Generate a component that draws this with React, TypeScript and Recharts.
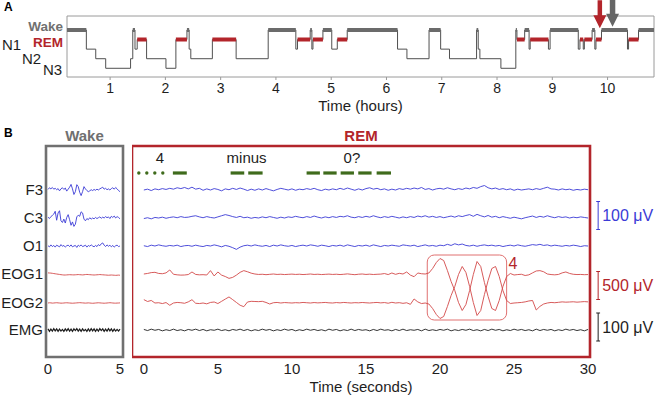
import {
  LineChart,
  Line,
  XAxis,
  YAxis,
  ReferenceArea,
  ReferenceLine,
  ReferenceDot,
} from 'recharts'

// ---------- Panel A: hypnogram ----------
const stageOrder = ['N3', 'N2', 'N1', 'REM', 'Wake']
const epochOnset = [
  0.22, 0.57, 0.74, 0.92, 1.37, 1.41, 1.45, 1.49, 1.66, 2.01, 2.19, 2.39, 2.43, 2.46, 2.85, 3.28, 3.86, 4.36,
  4.39, 4.62, 4.65, 4.67, 4.85, 5.01, 5.11, 5.29, 6.2, 6.37, 6.77, 6.98, 7.14, 7.63, 7.66, 7.69, 8.07, 8.34,
  8.36, 8.5, 8.58, 8.6, 8.93, 8.96, 9.47, 9.5, 9.56, 9.58, 9.72, 9.77, 9.79, 9.89, 10.36, 10.38, 10.56,
]
const epochStage = [
  'Wake', 'N1', 'N2', 'N3', 'N2', 'Wake', 'N1', 'REM', 'N2', 'N3', 'REM', 'Wake', 'N1', 'N2', 'REM', 'N2', 'Wake', 'N1',
  'REM', 'Wake', 'N1', 'REM', 'Wake', 'N1', 'REM', 'Wake', 'N1', 'N2', 'Wake', 'N1', 'N2', 'Wake', 'N1', 'N2', 'N3', 'Wake',
  'REM', 'Wake', 'N1', 'REM', 'N1', 'Wake', 'N1', 'REM', 'N1', 'REM', 'Wake', 'N1', 'REM', 'Wake', 'N1', 'REM', 'Wake',
]
const recordingEnd = 10.84
const hourTicks = [1, 2, 3, 4, 5, 6, 7, 8, 9, 10]
// arrows marking the two example epochs (hours)
const remArrowAt = 9.86
const wakeArrowAt = 10.09

// ---------- Panel B: traces (µV) ----------
const channelNames = ['F3', 'C3', 'O1', 'EOG1', 'EOG2', 'EMG']
const wakeDt = 0.1
const remDt = 0.25
const secondTicksWake = [0, 5]
const secondTicksRem = [0, 5, 10, 15, 20, 25, 30]

const wakeF3 = [
  2, 8, 4, 9, 3, 6, 1, 5, -3, 4,
  8, 2, 7, -4, 3, 10, 20, 4, -16, -6,
  19, 12, -8, -20, -6, 12, 4, -2, -6, -3,
  1, -2, 2, -1, 3, 0, 4, 7, 10, 3,
  6, 1, 4, 0, 5, 8, 3, 9, 4, -2,
  -6,
]
const wakeC3 = [
  3, -2, 5, 9, 14, 24, -8, 18, 26, -10,
  -16, -4, -18, 2, 12, -6, -26, -14, -30, -22,
  4, 10, 6, 22, 18, -4, -10, -2, -6, 1,
  -4, 0, -3, 2, -2, 1, 4, -1, 3, 0,
  5, 1, 4, -2, 6, 2, 7, 0, 5, 2,
  -3,
]
const wakeO1 = [
  1, -3, 4, -2, 2, -4, 3, 0, -3, 5,
  -1, 2, -4, 1, 3, -2, 4, -3, 0, 2,
  -5, 3, -1, 4, -2, 0, 3, -4, 2, -1,
  4, 0, -3, 2, -2, 5, 1, 8, 11, 3,
  -2, 4, -1, 3, -3, 2, -4, 1, 3, -2,
  0,
]
const wakeEOG1 = [
  20, 18, 16, 12, 8, 4, 0, -4, -8, -12,
  -15, -18, -18, -16, -14, -12, -14, -15, -16, -14,
  -12, -10, -12, -14, -16, -14, -10, -8, -10, -12,
  -14, -16, -18, -16, -14, -12, -10, -12, -14, -16,
  -18, -20, -22, -20, -18, -20, -22, -24, -22, -20,
  -22,
]
const wakeEOG2 = [
  0, 4, 2, -2, 0, 3, 5, 2, 0, -3,
  -2, 0, 3, 4, 2, 0, -2, -4, -2, 0,
  2, 4, 6, 4, 2, 0, -2, 0, 2, 0,
  -3, -5, -3, 0, 2, 4, 2, 0, -2, -4,
  -2, 0, 3, 5, 3, 0, -2, -3, -1, 0,
  2,
]
const wakeEMG = [
  4, -5, 3, -4, 5, -3, 4, -5, 3, -4,
  2, -5, 4, -3, 5, -4, 3, -5, 4, -2,
  5, -4, 3, -5, 4, -3, 2, -5, 4, -4,
  5, -3, 4, -5, 3, -4, 5, -2, 4, -5,
  3, -4, 5, -3, 4, -5, 3, -4, 2, -4,
  3,
]

const remF3 = [
  0, 3, -2, 4, 1, 5, 2, 6,
  3, 8, 5, 9, 4, 10, 3, 6,
  -1, 4, 0, 5, 2, -3, 4, 1,
  6, 2, 7, 3, -2, 3, -1, 4,
  0, 5, 1, -3, 2, 6, 3, 0,
  4, -1, 3, 1, 5, 2, 6, 1,
  -2, 3, 0, 4, 1, 6, 2, 7,
  3, -1, 4, 0, 5, 8, 3, 6,
  1, 4, -1, 3, 0, 5, 2, 6,
  3, 7, 4, 9, 2, 5, 0, 4,
  6, 3, 8, 4, 1, 5, 2, 7,
  4, 9, 6, 12, 16, 8, 4, 7,
  2, 5, 1, 4, -1, 3, 0, 2,
  4, 1, 5, 2, 6, 10, 4, 3,
  0, 4, 1, 3, -1, 2, 0, 3,
  1,
]
const remC3 = [
  -2, 1, -3, 2, 0, 3, -1, 2,
  4, 1, 5, 2, 3, 6, 8, 4,
  1, 5, 2, 0, 4, 8, 12, 9,
  5, 2, 6, 1, 3, -1, 2, 0,
  4, 1, 5, 2, -1, 3, 0, 4,
  2, 6, 3, 1, 5, 2, 7, 3,
  0, 4, 1, 5, 2, 6, 4, 8,
  3, 1, 5, 2, 6, 3, 8, 4,
  1, 5, 2, 6, 3, 0, 4, 1,
  5, 2, 7, 4, 8, 3, 6, 2,
  5, 1, 4, 7, 3, 8, 5, 9,
  12, 6, 13, 8, 4, 9, 3, 6,
  1, 5, 2, -1, 3, 0, -3, 1,
  4, 7, 2, 6, 3, 8, 4, 1,
  5, 2, 4, 0, 3, 1, 4, 2,
  0,
]
const remO1 = [
  1, -2, 3, 0, 4, 1, -1, 2,
  0, 3, -2, 1, 2, -1, 3, 0,
  -2, 2, 0, 4, 1, -3, 2, -1,
  -6, -12, -4, 1, 3, 0, 4, 1,
  -1, 2, -2, 3, 0, 4, 1, -1,
  2, -2, 1, 3, 0, 4, 2, -1,
  3, 1, -2, 2, 0, 3, -1, 4,
  1, -2, 2, 0, 3, -1, 4, 1,
  -2, 2, 0, 3, 1, -1, 4, 2,
  0, 3, -2, 1, 4, 0, 2, -1,
  3, 1, 6, 2, 8, 4, 7, 2,
  0, 3, -1, 2, 4, 1, 3, 0,
  2, -2, 1, 3, 0, 4, 1, -1,
  2, 5, 3, 6, 2, 4, 0, 3,
  1, -1, 2, 0, 3, 1, -2, 1,
  0,
]
const remEOG1 = [
  0, 10, 25, 30, 10, 5, 20, 72,
  -5, -15, -20, -18, -10, 36, -8, -15,
  -12, -18, 60, -35, 36, -20, -45, -78,
  -60, -20, 30, 60, 40, 15, 0, -8,
  -5, -12, -6, 0, -8, -4, -10, -6,
  -2, -8, -4, -10, -6, 0, -8, -4,
  -10, -6, -2, -8, -4, -10, -5, 2,
  -6, -12, -4, 0, -8, -3, -9, -5,
  -2, 8, -10, 18, -6, 12, 0, 36,
  -20, -48, 18, 5, 0, 18, 98, 205,
  277, 241, 63, -134, -295, -509, -652, -545,
  -295, -9, 223, 134, -152, -402, -616, -652,
  -473, -223, -45, 9, -18, -10, -5, -27,
  -15, 20, 54, 60, 40, 0, -10, -15,
  -8, 20, 36, 10, -5, -10, -8, -12,
  -10,
]
const remEOG2 = [
  60, 27, 45, 0, 5, -10, 8, -41,
  0, 10, 5, -5, 20, 59, -5, -10,
  0, -15, 10, 18, -10, 30, 70, 108,
  60, 10, -40, -66, 18, 30, 27, 24,
  30, 10, -18, 5, 10, 0, 8, 4,
  0, 6, 2, 10, 5, 0, 8, 2,
  6, 10, 3, 0, 8, 2, 10, 5,
  0, 6, 3, 9, 4, 0, 6, 10,
  2, 8, -4, 12, 0, 6, -6, 4,
  -24, 72, 20, -10, 0, -18, -98, -205,
  -277, -241, -63, 134, 295, 509, 652, 545,
  295, 9, -223, -134, 152, 402, 616, 652,
  473, 223, 45, -9, 0, 5, 10, 20,
  36, 45, -125, -60, -18, 0, 10, 5,
  12, 20, 15, 18, 22, 15, 20, 25,
  20,
]
const remEMG = [
  2, -2, 3, -1, 2, -3, 1, -2, 3, -2,
  1, -3, 2, -1, 3, -2, 2, -3, 1, -1,
  3, -2, 1, -3, 2, -1, 3, -2, 2, -3,
  1, -2, 3, -1, 2, -3, 1, -2, 3, -1,
  2, -3, 1, -2, 3, -1, 2, -2, 1, -3,
  3, -1, 2, -3, 1, -2, 3, -2, 2, -1,
  1, -3, 2, -2, 3, -1, 1, -3, 2, -2,
  3, -2, 1, -1, 2, -3, 3, -2, 1, -2,
  2, -1, 3, -3, 1, -2, 2, -1, 3, -2,
  1, -3, 2, -2, 3, -1, 2, -3, 1, -2,
  3, -1, 2, -2, 1, -3, 3, -2, 2, -1,
  2, -3, 1, -2, 3, -1, 2, -2, 1, -3,
  2,
]

// eye-movement signals during REM (seconds)
const signalLabels = ['4', 'minus', '0?']
const signalLabelAt = [1.08, 6.94, 14.05]
const signalDots = [-0.34, 0.2, 0.74, 1.28]
const signalDashes = [
  [1.96, 2.9], [5.86, 6.78], [7.05, 8.02],
  [10.99, 11.89], [12.12, 13.02], [13.29, 14.19], [14.48, 15.38], [15.72, 16.69],
]
// highlighted LRLR eye movements
const highlightFrom = 19.14
const highlightTo = 24.5
const highlightLabel = '4'

// calibration bars
const scaleBarMicrovolts = [100, 500, 100]

// ---------- layout ----------
const FONT = '"Liberation Sans", Arial, Helvetica, sans-serif'
const BLUE = '#3b3bd6'
const RED = '#b3252b'
const TRACE_RED = '#d24848'
const GREY = '#707070'
const GREEN = '#3f6b1c'
const INK = '#1e1e1e'

const channelBase = [-44, -72, -100, -128, -157, -184]
const channelGain = [0.28, 0.28, 0.28, 0.056, 0.056, 0.28] // px per µV
const channelColor = [BLUE, BLUE, BLUE, TRACE_RED, TRACE_RED, INK]
const wakeTraces = [wakeF3, wakeC3, wakeO1, wakeEOG1, wakeEOG2, wakeEMG]
const remTraces = [remF3, remC3, remO1, remEOG1, remEOG2, remEMG]
const scaleBarCenter = [-69.5, -139.5, -181]
const scaleBarGain = [0.28, 0.056, 0.28]
const scaleBarColor = [BLUE, RED, INK]
const scaleBarX = 30.68

const toTrace = (vals: number[], dt: number, ch: number) =>
  vals.map((v, i) => ({ t: Math.round(i * dt * 100) / 100, y: channelBase[ch] + v * channelGain[ch] }))

const hypnoRows = [
  ...epochOnset.map((t, i) => ({ t, s: stageOrder.indexOf(epochStage[i]) })),
  { t: recordingEnd, s: stageOrder.indexOf(epochStage[epochStage.length - 1]) },
]
const thickRows = (name: string) => {
  const lvl = stageOrder.indexOf(name)
  return epochOnset.flatMap((t, i) => {
    if (epochStage[i] !== name) return []
    const end = i + 1 < epochOnset.length ? epochOnset[i + 1] : recordingEnd
    return [{ t, v: lvl }, { t: end, v: lvl }, { t: end, v: null }]
  })
}
const remRows = thickRows('REM')
const wakeRows = thickRows('Wake')

const stageTickLayout: Record<string, any> = {
  Wake: { x: 63, anchor: 'end', dy: -3.5, fill: GREY, weight: 700, size: 13.5 },
  REM: { x: 63, anchor: 'end', dy: 3, fill: RED, weight: 700, size: 13.5 },
  N1: { x: 2, anchor: 'start', dy: -5, fill: INK, weight: 400, size: 15 },
  N2: { x: 22, anchor: 'start', dy: 0, fill: INK, weight: 400, size: 15 },
  N3: { x: 43, anchor: 'start', dy: 1, fill: INK, weight: 400, size: 15 },
}

function StageTick(props: any) {
  const name = stageOrder[props.payload.value]
  const s = stageTickLayout[name]
  return (
    <text x={s.x} y={props.y + s.dy} textAnchor={s.anchor} dominantBaseline="central" fontSize={s.size} fontWeight={s.weight} fill={s.fill}>
      {name}
    </text>
  )
}

const arrowShape = (color: string, shaft: number) => (p: any) => (
  <path
    d={`M${p.cx - shaft / 2},${p.cy - 28} h${shaft} v15 h${6.5 - shaft / 2} l-6.5,13 l-6.5,-13 h${6.5 - shaft / 2} z`}
    fill={color}
  />
)

const Hypnogram = () => (
  <LineChart width={657} height={115} margin={{ top: 16, right: 3, bottom: 0, left: 0 }}>
    <XAxis
      type="number"
      dataKey="t"
      domain={[0.22, recordingEnd]}
      allowDataOverflow
      ticks={hourTicks}
      axisLine={false}
      tickLine={{ stroke: '#999' }}
      tickSize={3}
      tickMargin={3}
      height={38}
      tick={{ fontSize: 14, fill: INK }}
      label={{ value: 'Time (hours)', position: 'insideBottom', offset: 4, fontSize: 15, fill: INK }}
    />
    <YAxis
      type="number"
      domain={[-0.91, 5.46]}
      allowDataOverflow
      ticks={[0, 1, 2, 3, 4]}
      interval={0}
      width={67}
      axisLine={false}
      tickLine={false}
      tick={(p: any) => <StageTick {...p} />}
    />
    <ReferenceArea x1={0.22} x2={recordingEnd} y1={-0.91} y2={5.46} fill="none" stroke="#9a9a9a" strokeWidth={1} />
    <Line data={hypnoRows} dataKey="s" type="stepAfter" stroke="#505050" strokeWidth={1} dot={false} activeDot={false} isAnimationActive={false} />
    <Line data={remRows} dataKey="v" type="linear" stroke={RED} strokeWidth={4} dot={false} activeDot={false} connectNulls={false} isAnimationActive={false} />
    <Line data={wakeRows} dataKey="v" type="linear" stroke="#6b6b6b" strokeWidth={4} dot={false} activeDot={false} connectNulls={false} isAnimationActive={false} />
    <ReferenceDot x={remArrowAt} y={4.18} r={0} ifOverflow="visible" shape={arrowShape(RED, 4.5)} />
    <ReferenceDot x={wakeArrowAt} y={4.35} r={0} ifOverflow="visible" shape={arrowShape('#666', 5.5)} />
  </LineChart>
)

const WakePanel = () => (
  <LineChart width={130} height={275} margin={{ top: 26, right: 7, bottom: 0, left: 0 }}>
    <XAxis
      type="number"
      dataKey="t"
      domain={[-0.14, 5.21]}
      allowDataOverflow
      ticks={secondTicksWake}
      axisLine={false}
      tickLine={false}
      tickSize={4}
      tickMargin={2}
      height={38}
      tick={{ fontSize: 15, fill: INK }}
    />
    <YAxis
      type="number"
      domain={[-211, 0]}
      allowDataOverflow
      ticks={channelBase}
      interval={0}
      width={46}
      axisLine={false}
      tickLine={false}
      tickSize={0}
      tickMargin={3}
      tick={{ fontSize: 15, fill: INK }}
      tickFormatter={(v: number) => channelNames[channelBase.indexOf(v)]}
    />
    <ReferenceArea
      x1={-0.14}
      x2={5.21}
      y1={-211}
      y2={0}
      fill="none"
      stroke={GREY}
      strokeWidth={2.6}
      label={{ value: 'Wake', position: 'top', offset: 5, fill: GREY, fontSize: 15, fontWeight: 700 }}
    />
    {wakeTraces.map((vals, ch) => (
      <Line
        key={channelNames[ch]}
        data={toTrace(vals, wakeDt, ch)}
        dataKey="y"
        type="linear"
        stroke={channelColor[ch]}
        strokeWidth={ch === 5 ? 1.2 : 0.9}
        dot={false}
        activeDot={false}
        isAnimationActive={false}
      />
    ))}
  </LineChart>
)

const RemPanel = () => (
  <LineChart width={525} height={275} margin={{ top: 26, right: 67, bottom: 0, left: 0 }}>
    <XAxis
      type="number"
      dataKey="t"
      domain={[-0.8, 30.13]}
      allowDataOverflow
      ticks={secondTicksRem}
      axisLine={false}
      tickLine={false}
      tickSize={4}
      tickMargin={2}
      height={38}
      tick={{ fontSize: 15, fill: INK }}
      label={{ value: 'Time (seconds)', position: 'insideBottom', offset: 3, fontSize: 15, fill: INK }}
    />
    <YAxis type="number" domain={[-211, 0]} allowDataOverflow hide />
    <ReferenceArea
      x1={-0.8}
      x2={30.13}
      y1={-211}
      y2={0}
      fill="none"
      stroke={RED}
      strokeWidth={2.6}
      label={{ value: 'REM', position: 'top', offset: 5, fill: RED, fontSize: 15, fontWeight: 700 }}
    />
    <ReferenceArea
      x1={highlightFrom}
      x2={highlightTo}
      y1={-174}
      y2={-109}
      shape={(p: any) => (
        <rect x={p.x} y={p.y} width={p.width} height={p.height} rx={7} fill="none" stroke="#e07070" strokeWidth={1} />
      )}
    />
    <ReferenceDot x={24.93} y={-117} r={0} fill="none" stroke="none" label={{ value: highlightLabel, position: 'center', fill: RED, fontSize: 16 }} />
    {signalLabels.map((txt, i) => (
      <ReferenceDot key={txt} x={signalLabelAt[i]} y={-12} r={0} fill="none" stroke="none" ifOverflow="visible" label={{ value: txt, position: 'center', fill: INK, fontSize: 15 }} />
    ))}
    {signalDots.map((x) => (
      <ReferenceDot key={x} x={x} y={-27} r={1.7} fill={GREEN} stroke="none" ifOverflow="visible" />
    ))}
    {signalDashes.map(([a, b]) => (
      <ReferenceLine key={a} segment={[{ x: a, y: -27 }, { x: b, y: -27 }]} stroke={GREEN} strokeWidth={3.2} ifOverflow="visible" />
    ))}
    {remTraces.map((vals, ch) => (
      <Line
        key={channelNames[ch]}
        data={toTrace(vals, remDt, ch)}
        dataKey="y"
        type="linear"
        stroke={channelColor[ch]}
        strokeWidth={0.9}
        dot={false}
        activeDot={false}
        isAnimationActive={false}
      />
    ))}
    {scaleBarMicrovolts.map((uv, i) => {
      const half = (uv * scaleBarGain[i]) / 2
      const top = scaleBarCenter[i] + half
      const bot = scaleBarCenter[i] - half
      return [
        <ReferenceLine
          key={`bar${i}`}
          segment={[{ x: scaleBarX, y: top }, { x: scaleBarX, y: bot }]}
          stroke={scaleBarColor[i]}
          strokeWidth={1}
          ifOverflow="visible"
          label={{ value: `${uv} μV`, position: 'right', offset: 4, fill: scaleBarColor[i], fontSize: 16 }}
        />,
        <ReferenceLine key={`capt${i}`} segment={[{ x: scaleBarX - 0.13, y: top }, { x: scaleBarX + 0.13, y: top }]} stroke={scaleBarColor[i]} strokeWidth={1} ifOverflow="visible" />,
        <ReferenceLine key={`capb${i}`} segment={[{ x: scaleBarX - 0.13, y: bot }, { x: scaleBarX + 0.13, y: bot }]} stroke={scaleBarColor[i]} strokeWidth={1} ifOverflow="visible" />,
      ]
    })}
  </LineChart>
)

export default function App() {
  return (
    <div style={{ position: 'absolute', left: 0, top: 0, width: 657, height: 395, background: '#fff', fontFamily: FONT, overflow: 'hidden' }}>
      <div style={{ position: 'absolute', left: 4, top: 0, fontSize: 12, fontWeight: 700 }}>A</div>
      <div style={{ position: 'absolute', left: 4, top: 126, fontSize: 12, fontWeight: 700 }}>B</div>
      <div style={{ position: 'absolute', left: 0, top: 0 }}>
        <Hypnogram />
      </div>
      <div style={{ position: 'absolute', left: 0, top: 120 }}>
        <WakePanel />
      </div>
      <div style={{ position: 'absolute', left: 132, top: 120 }}>
        <RemPanel />
      </div>
    </div>
  )
}
